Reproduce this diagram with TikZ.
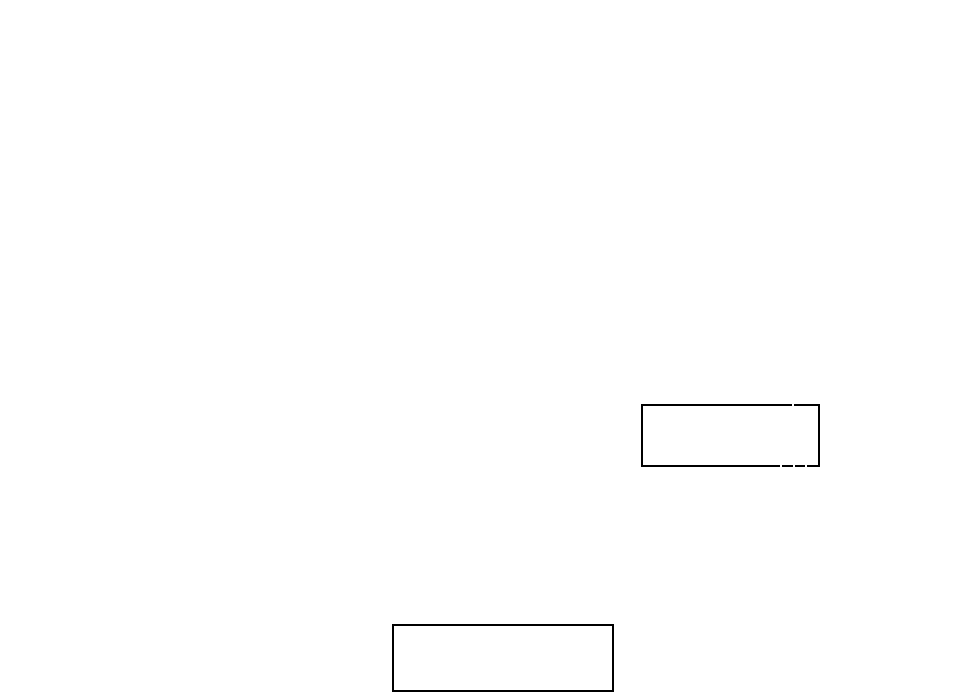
\documentclass[tikz,border=0pt]{standalone}
\begin{document}
\begin{tikzpicture}[x=1pt,y=-1pt,
  boxst/.style={draw=black,line width=1.6pt,fill=none,inner sep=0pt,anchor=north west},
  gapst/.style={draw=white,line width=1.2pt}]
\useasboundingbox[fill=white] (0,0) rectangle (961,698);
\node[boxst,minimum width=177pt,minimum height=61pt] (right) at (641,404) {};
\node[boxst,minimum width=220pt,minimum height=66pt] (bottom) at (392,624) {};
\coordinate (gt1) at (793,401);
\coordinate (gt2) at (793,407);
\draw[gapst] (gt1) -- (gt2);
\coordinate (gb1) at (781,462);
\coordinate (gb2) at (781,467);
\coordinate (gb3) at (794,462);
\coordinate (gb4) at (794,467);
\coordinate (gb5) at (806,462);
\coordinate (gb6) at (806,467);
\draw[gapst] (gb1) -- (gb2) (gb3) -- (gb4) (gb5) -- (gb6);
\end{tikzpicture}
\end{document}
